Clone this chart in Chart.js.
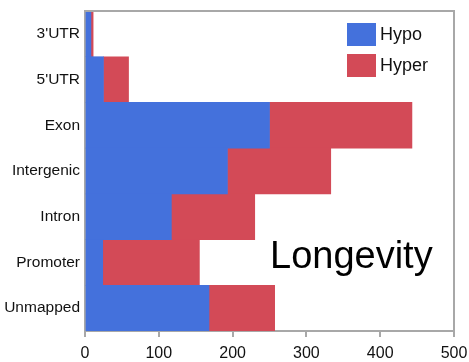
<!DOCTYPE html>
<html>
<head>
<meta charset="utf-8">
<script src="https://cdn.jsdelivr.net/npm/chart.js@4"></script>
<style>
  html, body { margin: 0; padding: 0; background: #fff; }
  #wrap { width: 469px; height: 362px; }
</style>
</head>
<body>
<div id="wrap"><canvas id="chart-longevity"></canvas></div>
<script>
// data
var regions = ["3'UTR", "5'UTR", "Exon", "Intergenic", "Intron", "Promoter", "Unmapped"];
var hypo = [8, 25, 250, 193, 117, 24, 168];
var hyper = [3, 34, 193, 140, 113, 131, 89];
var xTicks = [0, 100, 200, 300, 400, 500];
var title = "Longevity";

var blue = "#4471dc";
var red = "#d34a57";
var axisGrey = "#a8a8a8";
var fontName = "'Liberation Sans', Arial, Helvetica, sans-serif";

// frame, legend and the big label inside the plot
var decorations = {
    id: "decorations",
    afterDraw: function (chart) {
        var c = chart.ctx;
        var a = chart.chartArea;
        c.save();
        c.strokeStyle = axisGrey;
        c.lineWidth = 2;
        c.beginPath();
        c.moveTo(a.left, a.top);
        c.lineTo(a.right, a.top);
        c.lineTo(a.right, a.bottom);
        c.stroke();

        // legend
        c.font = "18px " + fontName;
        c.textBaseline = "middle";
        chart.data.datasets.forEach(function (ds, i) {
            var y = a.top + 12 + i * 31;
            c.fillStyle = ds.backgroundColor;
            c.fillRect(a.right - 107, y, 29, 23);
            c.fillStyle = "#111";
            c.fillText(ds.label, a.right - 74, y + 12);
        });

        c.font = "38px " + fontName;
        c.textBaseline = "alphabetic";
        c.fillStyle = "#000";
        c.fillText(title, 270, 268);
        c.restore();
    }
};

var ctx = document.getElementById("chart-longevity").getContext("2d");
var myChart = new Chart(ctx, {
    type: "bar",
    data: {
        labels: regions,
        datasets: [
            {
                label: "Hypo",
                data: hypo,
                backgroundColor: blue,
                borderWidth: 0,
                barPercentage: 1,
                categoryPercentage: 1
            },
            {
                label: "Hyper",
                data: hyper,
                backgroundColor: red,
                borderWidth: 0,
                barPercentage: 1,
                categoryPercentage: 1
            }
        ]
    },
    options: {
        indexAxis: "y",
        responsive: true,
        maintainAspectRatio: false,
        animation: false,
        layout: {
            padding: { top: 11, right: 15, left: 0, bottom: 0 }
        },
        plugins: {
            legend: { display: false },
            tooltip: { enabled: false }
        },
        scales: {
            x: {
                stacked: true,
                min: 0,
                max: 500,
                afterBuildTicks: function (scale) {
                    scale.ticks = xTicks.map(function (v) { return { value: v }; });
                },
                afterFit: function (scale) {
                    scale.height = 31;
                    scale.paddingLeft = 0;
                    scale.paddingRight = 0;
                },
                grid: {
                    drawOnChartArea: false,
                    drawTicks: true,
                    tickLength: 6,
                    color: axisGrey,
                    lineWidth: 2
                },
                border: { color: axisGrey, width: 2 },
                ticks: {
                    color: "#111",
                    padding: 7,
                    maxRotation: 0,
                    font: { family: fontName, size: 16 }
                }
            },
            y: {
                stacked: true,
                afterFit: function (scale) {
                    scale.width = 85;
                    scale.paddingTop = 0;
                    scale.paddingBottom = 0;
                },
                grid: { display: false, drawTicks: false },
                border: { color: axisGrey, width: 2 },
                ticks: {
                    color: "#111",
                    padding: 5,
                    font: { family: fontName, size: 15.5 }
                }
            }
        }
    },
    plugins: [decorations]
});
</script>
</body>
</html>
